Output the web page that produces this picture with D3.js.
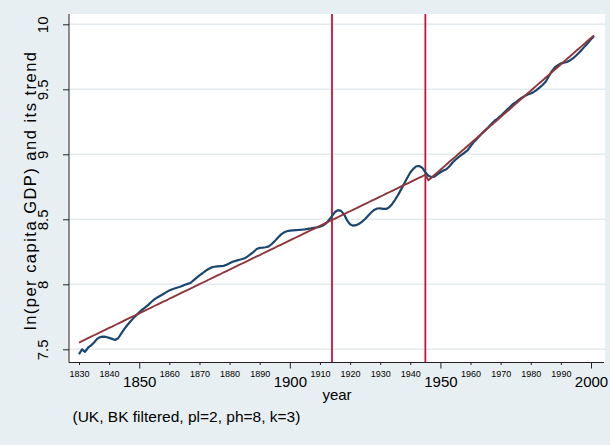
<!DOCTYPE html>
<html>
<head>
<meta charset="utf-8">
<script src="https://cdn.jsdelivr.net/npm/d3@7"></script>
<style>
  html, body { margin: 0; padding: 0; background: #e8eff2; }
  svg { display: block; font-family: "Liberation Sans", Arial, Helvetica, sans-serif; }
</style>
</head>
<body>
<svg id="chart" width="610" height="445"></svg>
<script>
// UK log per-capita GDP, 1830-2001, with its fitted trend
const years = d3.range(1830, 2002);

const lnGdp = [
  7.462, 7.500, 7.480, 7.512, 7.530, 7.552, 7.580, 7.594, 7.598, 7.595, // 1830s
  7.588, 7.580, 7.572, 7.585, 7.620, 7.655, 7.685, 7.712, 7.738, 7.762, // 1840s
  7.785, 7.805, 7.822, 7.842, 7.864, 7.884, 7.898, 7.912, 7.925, 7.940, // 1850s
  7.953, 7.962, 7.970, 7.977, 7.985, 7.995, 8.003, 8.010, 8.030, 8.050, // 1860s
  8.068, 8.085, 8.103, 8.118, 8.130, 8.135, 8.138, 8.140, 8.142, 8.150, // 1870s
  8.162, 8.173, 8.180, 8.187, 8.193, 8.200, 8.215, 8.232, 8.250, 8.272, // 1880s
  8.280, 8.282, 8.285, 8.292, 8.310, 8.332, 8.358, 8.382, 8.398, 8.408, // 1890s
  8.413, 8.415, 8.417, 8.418, 8.420, 8.423, 8.427, 8.430, 8.434, 8.438, // 1900s
  8.443, 8.452, 8.468, 8.495, 8.525, 8.556, 8.570, 8.565, 8.538, 8.492, // 1910s
  8.462, 8.451, 8.455, 8.465, 8.482, 8.502, 8.528, 8.552, 8.572, 8.583, // 1920s
  8.584, 8.580, 8.580, 8.592, 8.618, 8.652, 8.690, 8.732, 8.775, 8.820, // 1930s
  8.860, 8.888, 8.908, 8.910, 8.895, 8.862, 8.835, 8.825, 8.828, 8.845, // 1940s
  8.862, 8.875, 8.885, 8.908, 8.935, 8.958, 8.978, 8.995, 9.012, 9.030, // 1950s
  9.062, 9.092, 9.115, 9.140, 9.165, 9.188, 9.210, 9.235, 9.258, 9.275, // 1960s
  9.295, 9.318, 9.340, 9.362, 9.385, 9.400, 9.418, 9.435, 9.448, 9.460, // 1970s
  9.468, 9.480, 9.495, 9.515, 9.535, 9.560, 9.600, 9.640, 9.668, 9.685, // 1980s
  9.700, 9.705, 9.710, 9.722, 9.738, 9.758, 9.782, 9.805, 9.832, 9.857, // 1990s
  9.885, 9.908                                                          // 2000s
];

const lnGdpTrend = [
  7.552, 7.563, 7.574, 7.586, 7.597, 7.608, 7.619, 7.631, 7.642, 7.653,
  7.664, 7.675, 7.687, 7.698, 7.709, 7.720, 7.732, 7.743, 7.754, 7.765,
  7.776, 7.788, 7.799, 7.810, 7.821, 7.833, 7.844, 7.855, 7.866, 7.877,
  7.889, 7.900, 7.911, 7.922, 7.934, 7.945, 7.956, 7.967, 7.978, 7.990,
  8.001, 8.012, 8.023, 8.035, 8.046, 8.057, 8.068, 8.079, 8.091, 8.102,
  8.113, 8.124, 8.136, 8.147, 8.158, 8.169, 8.180, 8.192, 8.203, 8.214,
  8.225, 8.237, 8.248, 8.259, 8.270, 8.281, 8.293, 8.304, 8.315, 8.326,
  8.338, 8.349, 8.360, 8.371, 8.382, 8.394, 8.405, 8.416, 8.427, 8.439,
  8.450, 8.461, 8.472, 8.483, 8.495, 8.506, 8.517, 8.528, 8.540, 8.551,
  8.562, 8.573, 8.584, 8.596, 8.607, 8.618, 8.629, 8.641, 8.652, 8.663,
  8.674, 8.685, 8.697, 8.708, 8.719, 8.730, 8.742, 8.753, 8.764, 8.775,
  8.786, 8.798, 8.809, 8.820, 8.831, 8.843, 8.800, 8.820, 8.841, 8.861,
  8.881, 8.901, 8.922, 8.942, 8.962, 8.982, 9.003, 9.023, 9.043, 9.064,
  9.084, 9.104, 9.124, 9.145, 9.165, 9.185, 9.205, 9.226, 9.246, 9.266,
  9.287, 9.307, 9.327, 9.347, 9.368, 9.388, 9.408, 9.429, 9.449, 9.469,
  9.489, 9.510, 9.530, 9.550, 9.570, 9.591, 9.611, 9.631, 9.652, 9.672,
  9.692, 9.712, 9.733, 9.753, 9.773, 9.794, 9.814, 9.834, 9.854, 9.875,
  9.895, 9.915
];

// Reference years marked with vertical lines (start of WWI, end of WWII)
const eventYears = [1914, 1945];

const majorYearTicks = [1850, 1900, 1950, 2000];
const minorYearTicks = [1830, 1840, 1860, 1870, 1880, 1890, 1910, 1920, 1930, 1940,
                        1960, 1970, 1980, 1990];
const yTicks = [7.5, 8, 8.5, 9, 9.5, 10];

const yTitle = "ln(per capita GDP) and its trend";
const xTitle = "year";
const note = "(UK, BK filtered, pl=2, ph=8, k=3)";

// ---- layout ----
const W = 610, H = 445;
const plot = { left: 69, right: 605, top: 14, bottom: 362.5 };

const x = d3.scaleLinear().domain([1830, 2000]).range([79, 591]);
const y = d3.scaleLinear().domain([7.5, 10]).range([349.3, 24.3]);

const svg = d3.select("#chart");

svg.append("rect").attr("width", W).attr("height", H).attr("fill", "#e8eff2");
svg.append("rect")
  .attr("x", plot.left).attr("y", plot.top)
  .attr("width", plot.right - plot.left).attr("height", plot.bottom - plot.top)
  .attr("fill", "#ffffff");

// horizontal grid
svg.append("g").selectAll("line").data(yTicks).join("line")
  .attr("x1", plot.left).attr("x2", plot.right)
  .attr("y1", d => y(d)).attr("y2", d => y(d))
  .attr("stroke", "#e3ebee").attr("stroke-width", 1.6);

// event lines
svg.append("g").selectAll("line").data(eventYears).join("line")
  .attr("x1", d => x(d)).attr("x2", d => x(d))
  .attr("y1", plot.top).attr("y2", plot.bottom)
  .attr("stroke", "#c8143c").attr("stroke-width", 1.8);

// series
const seriesLine = vals => d3.line()
  .x((d, i) => x(years[i]))
  .y(d => y(d))(vals);

svg.append("path").attr("d", seriesLine(lnGdp))
  .attr("fill", "none").attr("stroke", "#1a476f").attr("stroke-width", 2.2)
  .attr("stroke-linejoin", "round");
svg.append("path").attr("d", seriesLine(lnGdpTrend))
  .attr("fill", "none").attr("stroke", "#90353b").attr("stroke-width", 1.9)
  .attr("stroke-linejoin", "round");

// ---- y axis ----
const yAxis = svg.append("g")
  .attr("transform", `translate(${plot.left},0)`)
  .call(d3.axisLeft(y).tickValues(yTicks).tickSize(6).tickFormat(d3.format("")));
yAxis.select(".domain").remove();
yAxis.selectAll(".tick line").attr("stroke", "#222").attr("stroke-width", 1);
yAxis.selectAll(".tick text")
  .attr("x", null).attr("dy", null)
  .attr("transform", "translate(-21,0) rotate(-90)")
  .attr("text-anchor", "middle")
  .attr("font-size", 15)
  .attr("font-family", "Liberation Sans, Arial, sans-serif")
  .attr("fill", "#000");
svg.append("line")
  .attr("x1", plot.left).attr("x2", plot.left)
  .attr("y1", plot.top).attr("y2", plot.bottom)
  .attr("stroke", "#222").attr("stroke-width", 1);

// ---- x axis ----
const xMinor = svg.append("g")
  .attr("transform", `translate(0,${plot.bottom})`)
  .call(d3.axisBottom(x).tickValues(minorYearTicks).tickSize(2.5).tickPadding(3)
    .tickFormat(d3.format("d")));
xMinor.select(".domain").remove();
xMinor.selectAll(".tick line").attr("stroke", "#222");
xMinor.selectAll(".tick text")
  .attr("font-size", 9).attr("font-family", "Liberation Sans, Arial, sans-serif")
  .attr("fill", "#000").attr("dy", null).attr("y", 14.5);

const xMajor = svg.append("g")
  .attr("transform", `translate(0,${plot.bottom})`)
  .call(d3.axisBottom(x).tickValues(majorYearTicks).tickSize(6)
    .tickFormat(d3.format("d")));
xMajor.select(".domain").remove();
xMajor.selectAll(".tick line").attr("stroke", "#222");
xMajor.selectAll(".tick text")
  .attr("font-size", 15).attr("font-family", "Liberation Sans, Arial, sans-serif")
  .attr("fill", "#000").attr("dy", null).attr("y", 24.8);

svg.append("line")
  .attr("x1", plot.left).attr("x2", plot.right - 1)
  .attr("y1", plot.bottom).attr("y2", plot.bottom)
  .attr("stroke", "#222").attr("stroke-width", 1);

// ---- titles ----
svg.append("text")
  .attr("transform", `translate(36,191) rotate(-90)`)
  .attr("text-anchor", "middle").attr("font-size", 16.5).attr("fill", "#000")
  .attr("textLength", 278).attr("lengthAdjust", "spacing")
  .text(yTitle);

svg.append("text")
  .attr("x", (plot.left + plot.right) / 2).attr("y", 400)
  .attr("text-anchor", "middle").attr("font-size", 15).attr("fill", "#000")
  .text(xTitle);

svg.append("text")
  .attr("x", 72.5).attr("y", 422)
  .attr("font-size", 15.5).attr("fill", "#000")
  .text(note);
</script>
</body>
</html>
